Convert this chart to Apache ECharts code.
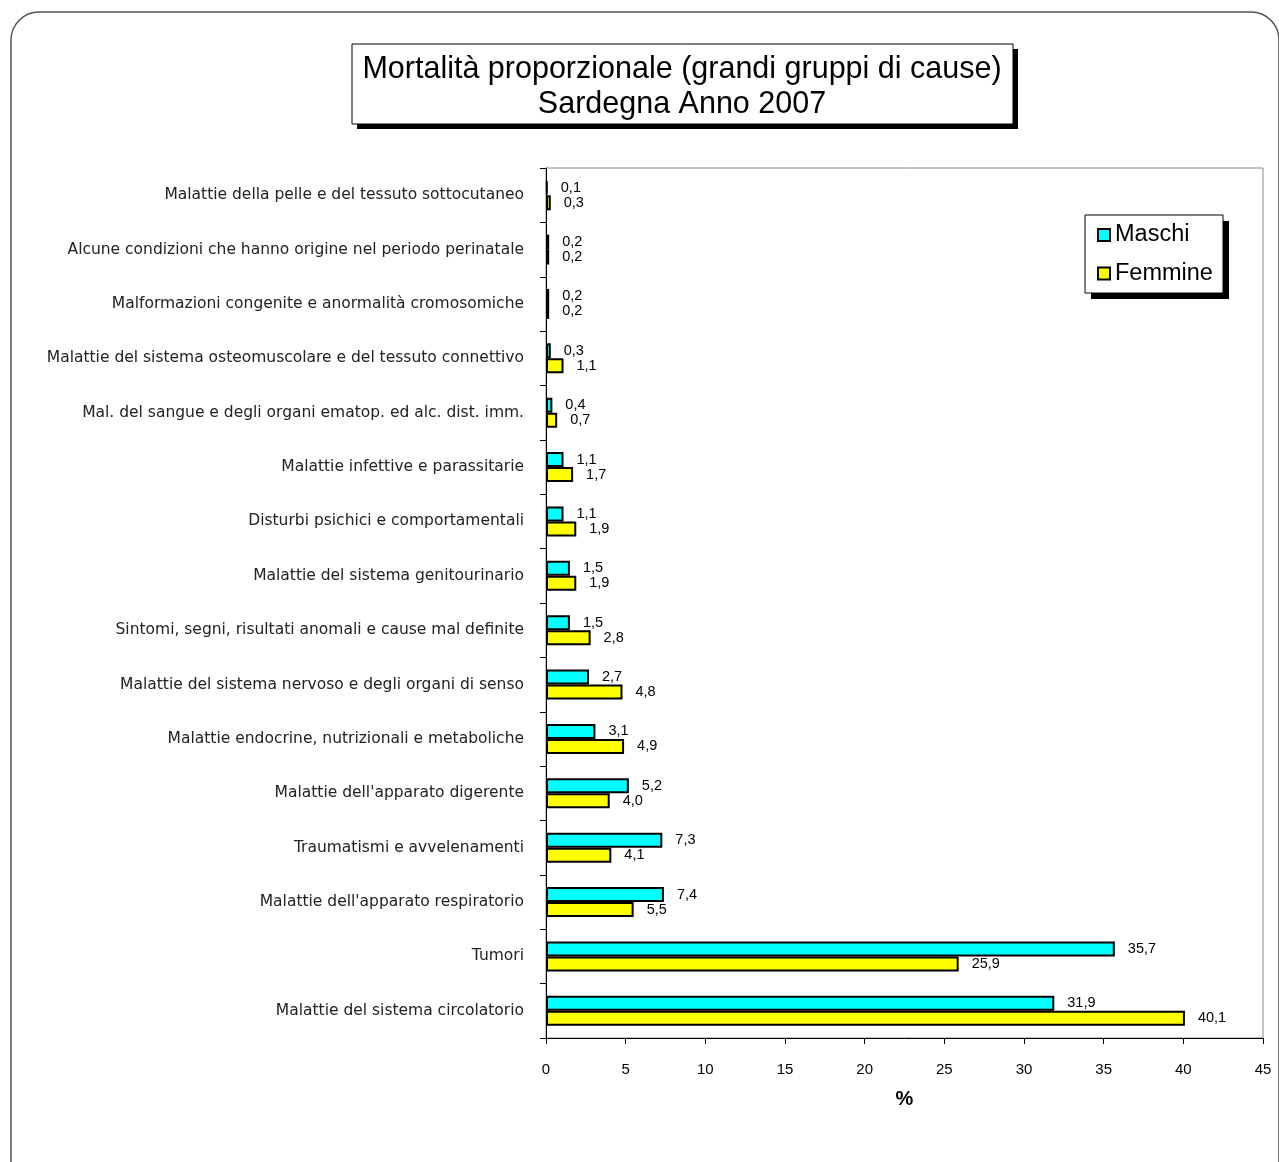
<!DOCTYPE html>
<html>
<head>
<meta charset="utf-8">
<script src="https://cdn.jsdelivr.net/npm/echarts@6/dist/echarts.min.js"></script>
<style>
html,body{margin:0;padding:0;background:#fff;}
#chart{width:1279px;height:1162px;}
</style>
</head>
<body>
<div id="chart"></div>
<script>
const categories = [
  "Malattie della pelle e del tessuto sottocutaneo",
  "Alcune condizioni che hanno origine nel periodo perinatale",
  "Malformazioni congenite e anormalità cromosomiche",
  "Malattie del sistema osteomuscolare e del tessuto connettivo",
  "Mal. del sangue e degli organi ematop. ed alc. dist. imm.",
  "Malattie infettive e parassitarie",
  "Disturbi psichici e comportamentali",
  "Malattie del sistema genitourinario",
  "Sintomi, segni, risultati anomali e cause mal definite",
  "Malattie del sistema nervoso e degli organi di senso",
  "Malattie endocrine, nutrizionali e metaboliche",
  "Malattie dell'apparato digerente",
  "Traumatismi e avvelenamenti",
  "Malattie dell'apparato respiratorio",
  "Tumori",
  "Malattie del sistema circolatorio"
];
const maschi  = [0.1, 0.2, 0.2, 0.3, 0.4, 1.1, 1.1, 1.5, 1.5, 2.7, 3.1, 5.2, 7.3, 7.4, 35.7, 31.9];
const femmine = [0.3, 0.2, 0.2, 1.1, 0.7, 1.7, 1.9, 1.9, 2.8, 4.8, 4.9, 4.0, 4.1, 5.5, 25.9, 40.1];
const seriesNames = ["Maschi", "Femmine"];
const titleLines = ["Mortalità proporzionale (grandi gruppi di cause)", "Sardegna Anno 2007"];
const xAxisName = "%";

const FONT = "'Liberation Sans', Arial, sans-serif";
const FONT_WIDE = "'DejaVu Sans', 'Liberation Sans', sans-serif";
const fmt = p => p.value.toFixed(1).replace('.', ',');

const chart = echarts.init(document.getElementById('chart'), null, {renderer: 'canvas'});
chart.setOption({
  backgroundColor: '#fff',
  animation: false,
  textStyle: {fontFamily: FONT},
  graphic: [
    {type: 'rect', shape: {x: 11, y: 12, width: 1268, height: 1220, r: 28},
     style: {fill: 'none', stroke: '#555', lineWidth: 1.5}, z: -10},
    // title box shadow + box
    {type: 'rect', shape: {x: 357, y: 49, width: 661, height: 80}, style: {fill: '#000'}, z: 10},
    {type: 'rect', shape: {x: 352, y: 44, width: 661, height: 80},
     style: {fill: '#fff', stroke: '#000', lineWidth: 1}, z: 11},
    {type: 'text', x: 682, y: 87, z: 12,
     style: {text: titleLines.join('\n'), fontFamily: FONT, fontSize: 30.5, lineHeight: 35,
             align: 'center', verticalAlign: 'middle', fill: '#000'}},
    // legend box shadow + box
    {type: 'rect', shape: {x: 1091, y: 221, width: 138, height: 78}, style: {fill: '#000'}, z: 10},
    {type: 'rect', shape: {x: 1085, y: 215, width: 138, height: 78},
     style: {fill: '#fff', stroke: '#000', lineWidth: 1}, z: 11}
  ],
  legend: {
    orient: 'vertical', left: 1097, top: 223, z: 20,
    padding: 0, itemGap: 14.5,
    itemWidth: 12, itemHeight: 12, icon: 'rect',
    textStyle: {fontSize: 23.5, color: '#000', fontFamily: FONT},
    data: seriesNames
  },
  grid: {left: 546, right: 16, top: 168, bottom: 124, show: true, borderColor: '#888', borderWidth: 1, backgroundColor: 'transparent'},
  xAxis: {
    type: 'value', min: 0, max: 45, interval: 5,
    axisLine: {show: true, lineStyle: {color: '#000', width: 1}},
    axisTick: {show: true, length: 6, lineStyle: {color: '#000'}},
    axisLabel: {fontSize: 15, color: '#000', margin: 24, fontFamily: FONT},
    splitLine: {show: false},
    name: xAxisName, nameLocation: 'middle', nameGap: 51,
    nameTextStyle: {fontSize: 20, fontWeight: 'bold', color: '#000', fontFamily: FONT}
  },
  yAxis: {
    type: 'category', data: categories, inverse: true,
    axisLine: {show: true, lineStyle: {color: '#000', width: 1}},
    axisTick: {show: true, length: 6, lineStyle: {color: '#000'}},
    axisLabel: {fontSize: 15.5, color: '#222', margin: 22, fontFamily: FONT_WIDE, padding: [3, 0, 0, 0]},
    splitLine: {show: false}
  },
  series: [
    {name: seriesNames[0], type: 'bar', data: maschi, barWidth: 15, barGap: '0%',
     itemStyle: {color: '#00FFFF', borderColor: '#000', borderWidth: 2},
     label: {show: true, position: 'right', distance: 13, formatter: fmt, fontSize: 14.5, color: '#000', fontFamily: FONT}},
    {name: seriesNames[1], type: 'bar', data: femmine, barWidth: 15, barGap: '0%',
     itemStyle: {color: '#FFFF00', borderColor: '#000', borderWidth: 2},
     label: {show: true, position: 'right', distance: 13, formatter: fmt, fontSize: 14.5, color: '#000', fontFamily: FONT}}
  ]
});
</script>
</body>
</html>
